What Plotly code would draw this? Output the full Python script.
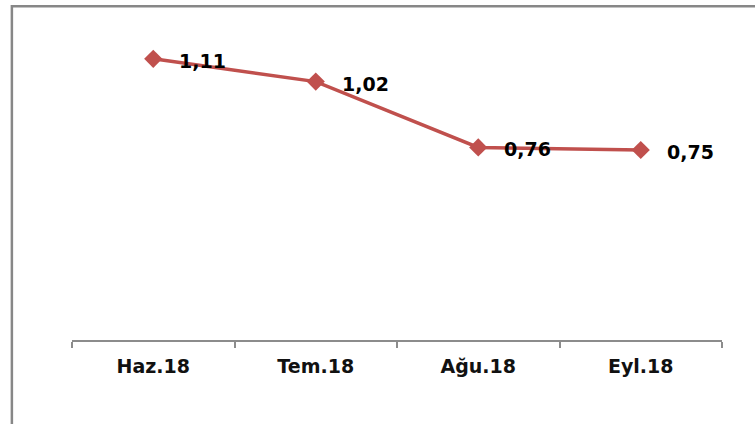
import plotly.graph_objects as go

categories = ["Haz.18", "Tem.18", "Ağu.18", "Eyl.18"]
values = [1.11, 1.02, 0.76, 0.75]
value_labels = ["1,11", "1,02", "0,76", "0,75"]

RED = "#C0504D"
FONT = "DejaVu Sans"

fig = go.Figure()
fig.add_trace(go.Scatter(
    x=categories, y=values, mode="lines+markers",
    line=dict(color=RED, width=3.5),
    marker=dict(symbol="diamond", size=14, color=RED),
    hoverinfo="skip", showlegend=False,
))

for c, v, t in zip(categories, values, value_labels):
    fig.add_annotation(x=c, y=v, text="<b>%s</b>" % t, showarrow=False,
                       xanchor="left", yanchor="middle", xshift=24, yshift=-2,
                       font=dict(family=FONT, size=19, color="#000000"))

# outer chart border
fig.add_shape(type="rect", xref="paper", yref="paper",
              x0=-0.0925, x1=1.2, y0=-0.6, y1=1.098, layer="above",
              line=dict(color="#878787", width=2.5))

fig.update_layout(
    width=755, height=424,
    margin=dict(l=72, r=33, t=36, b=84),
    paper_bgcolor="white", plot_bgcolor="white",
    xaxis=dict(range=[-0.5, 3.5], showgrid=False, showline=True,
               linecolor="#8C8C8C", linewidth=1.5,
               ticks="outside", ticklen=6, tickcolor="#8C8C8C", tickwidth=1.5,
               tickson="boundaries",
               tickfont=dict(family=FONT, size=19, color="#111111"),
               tickprefix="<b>", ticksuffix="</b>", ticklabelstandoff=8),
    yaxis=dict(range=[0, 1.2], visible=False, showgrid=False, zeroline=False),
)

fig.write_html("out.html", config={"displayModeBar": False},
               post_script="document.body.style.margin='0';")
